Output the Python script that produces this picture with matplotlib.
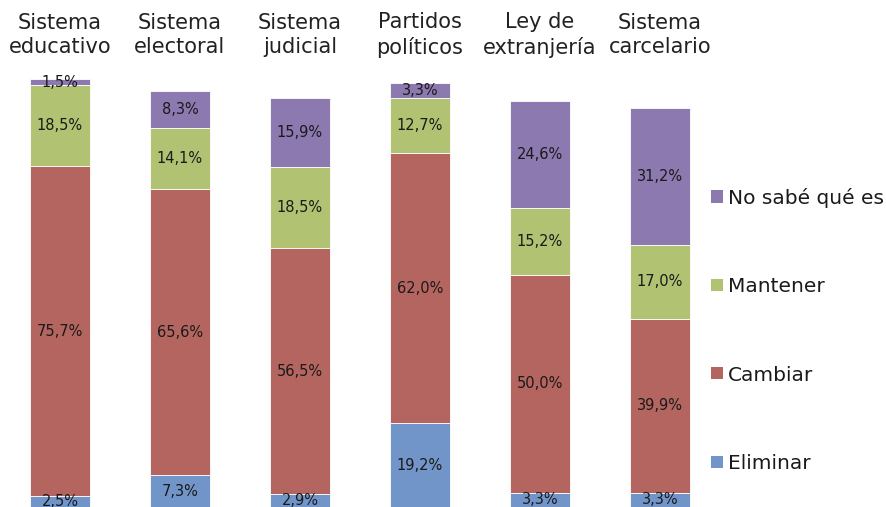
import matplotlib
matplotlib.use('Agg')
import matplotlib.pyplot as plt
from matplotlib.patches import Patch

# Datos
categorias = ["Sistema\neducativo", "Sistema\nelectoral", "Sistema\njudicial",
              "Partidos\npolíticos", "Ley de\nextranjería", "Sistema\ncarcelario"]
eliminar = [2.5, 7.3, 2.9, 19.2, 3.3, 3.3]
cambiar = [75.7, 65.6, 56.5, 62.0, 50.0, 39.9]
mantener = [18.5, 14.1, 18.5, 12.7, 15.2, 17.0]
no_sabe = [1.5, 8.3, 15.9, 3.3, 24.6, 31.2]

series = [("Eliminar", eliminar, "#7195C9"),
          ("Cambiar", cambiar, "#B5655F"),
          ("Mantener", mantener, "#B1C373"),
          ("No sabé qué es", no_sabe, "#8C79B0")]

plt.rcParams['font.family'] = ['DejaVu Sans']

fig = plt.figure(figsize=(8.86, 5.07), dpi=100)
ax = fig.add_axes([0, 0, 1, 1])

x = list(range(len(categorias)))
bottom = [0] * len(x)
for nombre, vals, color in series:
    bars = ax.bar(x, vals, width=0.5, bottom=bottom, color=color,
                  edgecolor='white', linewidth=0.6, label=nombre)
    etiquetas = [f"{v:.1f}%".replace('.', ',') for v in vals]
    ax.bar_label(bars, labels=etiquetas, label_type='center',
                 fontsize=10.5, color='#1a1a1a')
    bottom = [b + v for b, v in zip(bottom, vals)]

# Títulos de categorías arriba
for xi, cat in zip(x, categorias):
    ax.text(xi, 0.931, cat, transform=ax.get_xaxis_transform(),
            ha='center', va='center', fontsize=15, color='#222222',
            linespacing=1.3)

ax.set_xlim(-0.5, 886 / 120 - 0.5)
ax.set_ylim(0, 507 / 4.36)
ax.axis('off')

handles = [Patch(facecolor=c, label=n) for n, _, c in series][::-1]
ax.legend(handles=handles, loc='upper left', bbox_to_anchor=(0.803, 0.63),
          frameon=False, fontsize=14.5, handlelength=0.55, handleheight=0.55,
          handletextpad=0.25, labelspacing=3.45, labelcolor='#1a1a1a',
          borderpad=0, borderaxespad=0)

plt.savefig('out.png', dpi=100)
plt.close(fig)
